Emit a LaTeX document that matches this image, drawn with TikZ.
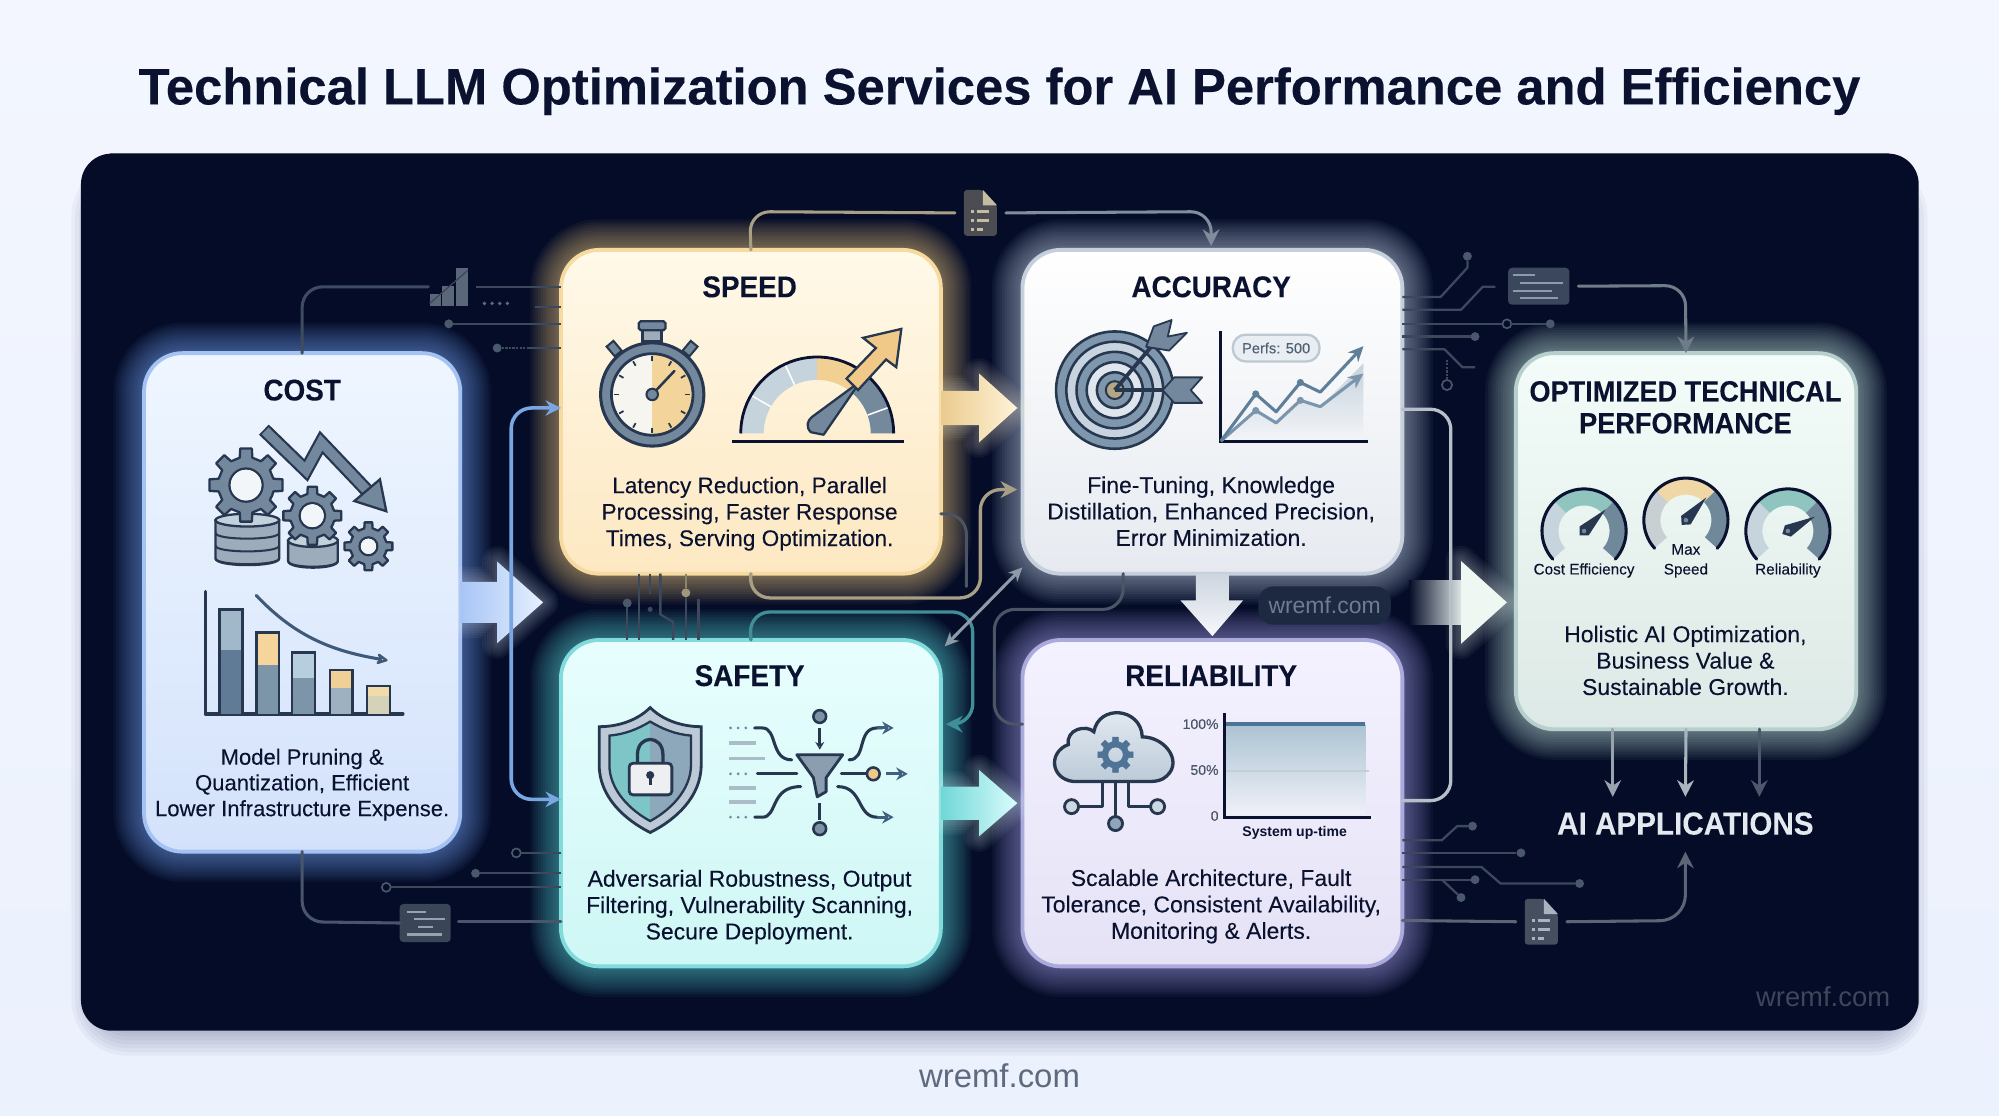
\documentclass[tikz,border=0pt]{standalone}
\usepackage{fontspec}
\setmainfont{Liberation Sans}
\newfontfamily\ttlf[FakeStretch=0.93,FakeBold=0.15]{Liberation Sans Bold}
\newfontfamily\ttlg[FakeStretch=0.925,FakeBold=0.15]{Liberation Sans Bold}
\newfontfamily\headf[FakeStretch=0.99,FakeBold=0.3]{Liberation Sans Bold}
\newfontfamily\bodyf[FakeBold=0.12]{Liberation Sans}
\usetikzlibrary{arrows.meta,calc}
\definecolor{ink}{HTML}{0A1230}
\definecolor{panel}{HTML}{040C27}
\definecolor{icod}{HTML}{26374F}
\definecolor{icom}{HTML}{73889D}
\definecolor{icol}{HTML}{C3D1DC}
\definecolor{tan}{HTML}{F3D193}
\definecolor{wire}{HTML}{3C485C}
\definecolor{wireD}{HTML}{4A586B}
\newcommand{\dcl}[1]{\definecolor{#1}{HTML}{#1}}
\makeatletter
\@for\cc:=F3F6FE,EBF1FD,5E6A7D,3D475A,7FAEFF,A4C2F2,EFF6FF,D3E2FB,F5CF84,F6DA9F,FFF9E9,FDE8C2,C8D6EA,C5D0DC,FFFFFF,E6EAF0,62E0E0,82DBDB,E8FEFE,CEF7F5,AFA8F0,ABAADD,F4F2FF,E5E2F6,CFEFE6,B7D0CE,F3FCF8,DDE9E6,A7C5F5,E6F0FF,EBCB8E,FFF3D8,6FD7D7,DBFCFC,CDD5DF,F6F8FB,EEF7F2,1C2940,6E7D90,4B4D52,C5BBA0,A89F85,7F8D9C,7AA6E2,4B5464,3F8E98,4B5565,8C9AAA,B8BFC8,3A475C,8E9BAD,6F7D89,E4E9EF,98A3AD,AAB4BF,4C586B,454F60,A9B2BF,5A6575,5A6779,3B4759,3E4B60,5E6B7E,4A586B,A1977B,8A8470,3A4558,96A2B2,49556A,A1B8CA,5F7B95,F6D59C,7D95A9,B6CEDE,F1D098,9EB1C0,EFDCA9,D4D2B8,3E5A78,F7F5EF,F3D49A,C5D3DC,F2CF93,74899C,F0C988,7E97AD,C7D4DF,DFE6ED,B5A785,C6D2DD,F3F5F8,7B95AC,5F7E98,BCC8D4,E9EEF3,4E6072,7EC5C8,8EA8BB,EDEFF3,8B9EB0,A9BCC8,3F5F7F,EFC98B,7E92A6,8EA6BA,CCD8E2,E6ECF2,BCCBD9,4E7396,ACC3D3,EEF0F7,C3CEDB,4A7598,4A5568,C6D4DD,8FC5BE,6F889A,C9D0D4,EFD8A5,DDE6E4\do{\expandafter\dcl\expandafter{\cc}}
\makeatother
\tikzset{
 x=1pt,y=-1pt,
 cardbox/.style={rectangle,rounded corners=30pt,line width=3pt,inner sep=0pt,outer sep=0pt},
 ttl/.style={font=\fontsize{23.5}{26}\selectfont\ttlf,text=ink,inner sep=0pt,align=center},
 body/.style={font=\fontsize{18}{20.7}\selectfont\bodyf,text=ink,inner sep=0pt,align=center},
 conn/.style={line width=2.4pt,rounded corners=16pt,line cap=round},
 wr/.style={line width=1.8pt,draw=wire,line join=round},
 dotn/.style={circle,fill=#1,minimum size=7pt,inner sep=0pt,outer sep=0pt},
 dotn/.default=wireD,
 ring/.style={circle,draw=wireD,line width=1.3pt,minimum size=7pt,inner sep=0pt,outer sep=0pt},
 ar/.style={-{Stealth[length=13pt,width=13pt]}},
 mini/.style={font=\fontsize{12}{14}\selectfont\bodyf,text=ink,inner sep=0pt},
 ilin/.style={draw=icod,line width=2.4pt,line cap=round,line join=round},
}
% card: name x1 y1 x2 y2 glow border top bottom
\newcommand{\card}[9]{%
 \foreach \w in {48,44,40,36,32,28,24,20,16,12,8,5}{\draw[#6,line width=\w pt,opacity=.05,rounded corners=30pt] (#2,#3) rectangle (#4,#5);}
 \pgfmathsetmacro\cw{#4-#2}\pgfmathsetmacro\ch{#5-#3}
 \node[cardbox,draw=#7,top color=#8,bottom color=#9,minimum width=\cw pt,minimum height=\ch pt] (#1) at ({(#2+#4)/2},{(#3+#5)/2}) {};}
% horizontal block arrow: x0 xb xt yc sh hh colA colB
\newcommand{\harrow}[8]{%
 \foreach \w in {24,20,16,12,8,4}{\draw[#8,line width=\w pt,opacity=.05,line join=round] (#1,#4-#5)--(#2,#4-#5)--(#2,#4-#6)--(#3,#4)--(#2,#4+#6)--(#2,#4+#5)--(#1,#4+#5)--cycle;}
 \shade[left color=#7,right color=#8] (#1,#4-#5)--(#2,#4-#5)--(#2,#4-#6)--(#3,#4)--(#2,#4+#6)--(#2,#4+#5)--(#1,#4+#5)--cycle;}
% gear: cx cy R hole
\newcommand{\gear}[4]{%
 \draw[fill=icom,draw=icod,line width=1.8pt,even odd rule,line join=round]
  ({#1+#3*.76*cos(-22)},{#2-#3*.76*sin(-22)})
  \foreach \i in {0,...,7}{ -- ({#1+#3*.76*cos(\i*45-13)},{#2-#3*.76*sin(\i*45-13)}) -- ({#1+#3*cos(\i*45-9)},{#2-#3*sin(\i*45-9)}) -- ({#1+#3*cos(\i*45+9)},{#2-#3*sin(\i*45+9)}) -- ({#1+#3*.76*cos(\i*45+13)},{#2-#3*.76*sin(\i*45+13)})} -- cycle
  (#1,#2) circle (#4);}
% db stack: x1 x2 ytop ybot layers
\newcommand{\dbstack}[5]{%
 \pgfmathsetmacro\mx{(#1+#2)/2}\pgfmathsetmacro\rx{(#2-#1)/2}\pgfmathsetmacro\st{(#4-#3)/#5}
 \draw[fill=icom!70,draw=icod,line width=1.8pt] (#1,#3)--(#1,#4) .. controls (#1,#4+7) and (#2,#4+7) .. (#2,#4)--(#2,#3)--cycle;
 \foreach \k in {1,...,#5}{\draw[draw=icod,line width=1.6pt] (#1,#3+\k*\st) .. controls (#1,#3+\k*\st+6) and (#2,#3+\k*\st+6) .. (#2,#3+\k*\st);}
 \draw[fill=icol,draw=icod,line width=1.8pt] (\mx,#3) ellipse [x radius=\rx,y radius=5];}
% annular sector: cx cy a1 a2 Rout Rin colour
\newcommand{\sectorb}[7]{\fill[#7] plot[domain=#3:#4,samples=24] ({#1+(#5)*cos(\x)},{#2-(#5)*sin(\x)}) -- plot[domain=#4:#3,samples=24] ({#1+(#6)*cos(\x)},{#2-(#6)*sin(\x)}) -- cycle;}
% gauge: cx cy R colA colB colC needle-angle
\newcommand{\gauge}[7]{%
 \sectorb{#1}{#2}{222}{135}{#3-1}{#3-13}{#4}
 \sectorb{#1}{#2}{135}{45}{#3-1}{#3-13}{#5}
 \sectorb{#1}{#2}{45}{-42}{#3-1}{#3-13}{#6}
 \draw[draw=ink,line width=2.4pt,line cap=round] plot[domain=222:-42,samples=50] ({#1+#3*cos(\x)},{#2-#3*sin(\x)});
 \fill[icod] ({#1+5*cos(#7+90)},{#2-5*sin(#7+90)}) -- ({#1+24*cos(#7)},{#2-24*sin(#7)}) -- ({#1+5*cos(#7-90)},{#2-5*sin(#7-90)}) -- ({#1-5*cos(#7)},{#2+5*sin(#7)}) -- cycle;
 \fill[icom] (#1,#2) circle (1.8);}
% doc icon: name cx cy w h fill fold
\newcommand{\docicon}[7]{%
 \node[minimum width=#4 pt+14pt,minimum height=#5 pt,inner sep=0pt,outer sep=0pt] (#1) at (#2,#3) {};
 \pgfmathsetmacro\xl{#2-#4/2}\pgfmathsetmacro\xr{#2+#4/2}\pgfmathsetmacro\yt{#3-#5/2}\pgfmathsetmacro\yb{#3+#5/2}
 \fill[#6,rounded corners=2.5pt] (\xl,\yt)--(\xr-11,\yt)--(\xr,\yt+12)--(\xr,\yb)--(\xl,\yb)--cycle;
 \fill[#7] (\xr-11,\yt)--(\xr,\yt+12)--(\xr-11,\yt+12)--cycle;
 \foreach \d/\l in {1/10,8/10,15/5}{
  \fill[#7] (\xl+6,\yt+15+\d) rectangle ++(2,2.4);
  \fill[#7] (\xl+10,\yt+15+\d) rectangle ++(\l,2.4);}}
\begin{document}
\begin{tikzpicture}
\useasboundingbox (0,0) rectangle (1568,875.37);
% page
\shade[top color=F3F6FE,bottom color=EBF1FD,draw=none] (0,0) rectangle (1568,875.37);
\foreach \w in {40,34,28,22,16,10,5}{\draw[black!75!blue,line width=\w pt,opacity=.035,rounded corners=24pt] (76,146) rectangle (1492,808);}
\fill[panel,rounded corners=24pt] (63.5,120.5) rectangle (1505,808.5);
\draw[white!30!panel,line width=.7pt] (86,120.5) -- (1482,120.5);
% title and watermarks
\node[font=\fontsize{40.2}{44}\selectfont\headf,text=ink,inner sep=0pt] (title) at (784,71.5) {Technical LLM Optimization Services for AI Performance and Efficiency};
\node[font=\fontsize{25.8}{28}\selectfont,text=5E6A7D,inner sep=0pt] (wm1) at (784,844) {wremf.com};
\node[font=\fontsize{21.5}{25}\selectfont,text=3D475A,inner sep=0pt] (wm2) at (1430,782) {wremf.com};
% cards
\card{cost}{113}{277}{361}{668}{7FAEFF}{A4C2F2}{EFF6FF}{D3E2FB}
\card{speed}{440}{196}{738}{450}{F5CF84}{F6DA9F}{FFF9E9}{FDE8C2}
\card{acc}{802}{196}{1100}{450}{C8D6EA}{C5D0DC}{FFFFFF}{E6EAF0}
\card{safe}{440}{502}{738}{758}{62E0E0}{82DBDB}{E8FEFE}{CEF7F5}
\card{rel}{802}{502}{1100}{758}{AFA8F0}{ABAADD}{F4F2FF}{E5E2F6}
\card{opt}{1189}{277}{1456}{572}{CFEFE6}{B7D0CE}{F3FCF8}{DDE9E6}
% block arrows
\harrow{361}{390}{426}{472.5}{16}{32}{A7C5F5}{E6F0FF}
\harrow{738}{768}{798}{320}{13.5}{27}{EBCB8E}{FFF3D8}
\harrow{738}{768}{798}{630}{13}{26}{6FD7D7}{DBFCFC}
\shade[top color=CDD5DF,bottom color=F6F8FB] (938,450)--(964,450)--(964,471)--(975,471)--(951,499)--(926,471)--(938,471)--cycle;
\foreach \w in {24,20,16,12,8,4}{\draw[EEF7F2,line width=\w pt,opacity=.05,line join=round] (1146,440)--(1182,472.5)--(1146,505)--cycle;}
\shade[left color=panel,right color=DDE6E4] (1105,455) rectangle (1146,490);
\fill[EEF7F2] (1146,440)--(1182,472.5)--(1146,505)--cycle;
% watermark pill
\node[rectangle,rounded corners=12pt,fill=1C2940,minimum width=104pt,minimum height=30pt,inner sep=0pt,font=\fontsize{18}{22}\selectfont,text=6E7D90] (pill) at (1039,475) {wremf.com};
% main connectors
\docicon{doct}{769}{167}{26}{36}{4B4D52}{C5BBA0}
\draw[conn,draw=A89F85] (speed.north) -- (588,166) -- (doct.west);
\draw[conn,draw=7F8D9C,ar] (doct.east) -- (950,166) -- (950,193);
\draw[conn,draw=7AA6E2,{Stealth[length=12pt,width=12pt]}-{Stealth[length=12pt,width=12pt]},line width=2.8pt] (speed.west |- 0,320) -- (401,320) -- (401,627) -- (safe.west |- 0,627);
\draw[conn,draw=A89F85,ar,line width=2.6pt] (speed.south) -- (588,469) -- (769,469) -- (769,384) -- (798,384);
\draw[conn,draw=4B5464] (speed.east |- 0,403) -- (758,403) -- (758,460);
\draw[conn,draw=3F8E98,ar,line width=2.6pt] (safe.north) -- (588,480) -- (763,480) -- (763,568) -- (742,568);
\draw[conn,draw=4B5565] (881,450) -- (881,478) -- (780,478) -- (780,568) -- (rel.west |- 0,568);
\draw[draw=8C9AAA,line width=2.4pt,{Stealth[length=11pt,width=10pt]}-{Stealth[length=11pt,width=10pt]}] (802,445) -- (741,507);
\draw[conn,draw=B8BFC8,line width=2.6pt] (acc.east |- 0,321) -- (1138,321) -- (1138,628) -- (rel.east |- 0,628);
% list icon right
\node[fill=3A475C,rounded corners=3pt,minimum width=48pt,minimum height=29pt,inner sep=0pt,outer sep=0pt] (listr) at (1207,224.5) {};
\foreach \yy/\a/\b in {216/1187/1204,222/1192/1226,228/1187/1217,234/1192/1222}{\draw[8E9BAD,line width=1.6pt] (\a,\yy) -- (\b,\yy);}
\draw[conn,draw=6F7D89,ar] (listr.east) ++(7,0) -- (1322,224) -- (opt.north);
% opt outputs
\node[font=\fontsize{25}{28}\selectfont\ttlf,text=E4E9EF,inner sep=0pt] (apps) at (1322,646) {AI APPLICATIONS};
\coordinate (o1) at (1265,625);\coordinate (o2) at (1322,625);\coordinate (o3) at (1380,625);\coordinate (aiin) at (1322,668);
\draw[conn,draw=98A3AD,ar] (opt.south -| o1) -- (o1);
\draw[conn,draw=AAB4BF,ar] (opt.south) -- (o2);
\draw[conn,draw=4C586B,ar] (opt.south -| o3) -- (o3);
\docicon{docb}{1209}{723}{26}{36}{454F60}{A9B2BF}
\draw[conn,draw=5A6575] (rel.east |- 0,722) -- (docb.west);
\draw[conn,draw=5A6575,ar,rounded corners=20pt] (docb.east) -- (1322,722) -- (aiin);
% circuit right of accuracy
\node[dotn] (a1) at (1151,201) {};\node[dotn] (a3) at (1216,254) {};\node[ring] (a3b) at (1182,254) {};\node[dotn] (a4) at (1157,264) {};\node[ring,minimum size=8pt] (a5) at (1135,302) {};
\coordinate (a2) at (1173,225);\coordinate (a6) at (1157,288);
\draw[wr] (acc.east |- 0,233) -- (1130,233) -- (1151,210) -- (a1);
\draw[wr] (acc.east |- 0,243) -- (1146,243) -- (1163,225) -- (a2);
\draw[wr] (acc.east |- 0,254) -- (a3b) -- (a3);
\draw[wr] (acc.east |- 0,264) -- (a4);
\draw[wr] (acc.east |- 0,274) -- (1133,274) -- (1147,288) -- (a6);
\draw[wr,densely dotted] (1135,282) -- (a5);
% circuit right of reliability
\node[dotn] (r1) at (1155,648) {};\node[dotn] (r2) at (1193,669) {};\node[dotn] (r3) at (1239,693) {};\node[dotn] (r4) at (1157,690) {};\node[dotn] (r5) at (1146,704) {};
\draw[wr] (rel.east |- 0,659) -- (1131,659) -- (1143,648) -- (r1);
\draw[wr] (rel.east |- 0,669) -- (r2);
\draw[wr] (rel.east |- 0,680) -- (1162,680) -- (1177,693) -- (r3);
\draw[wr] (rel.east |- 0,690) -- (r4);
\draw[wr] (1131,690) -- (r5);
% circuit left top
\node[fill=none,minimum width=32pt,minimum height=32pt,inner sep=0pt,outer sep=0pt] (chartmini) at (352,225) {};
\foreach \xa/\h in {337/9,347/16,358/30}{\fill[5A6779] (\xa,240) rectangle (\xa+9,240-\h);}
\draw[3B4759,line width=1pt] (337,238) -- (367,212);
\draw[conn,draw=3E4B60] (cost.north) -- (237,225) -- (chartmini.west);
\draw[wr] (chartmini.east) ++(5,0) -- (speed.west |- 0,225);
\foreach \xx in {380,386,392,398}{\fill[5E6B7E] (\xx,238) circle (1.5);}
\draw[wr] (420,241) -- (speed.west |- 0,241);
\node[dotn] (l1) at (352,254) {};\draw[wr] (l1) -- (speed.west |- 0,254);
\node[dotn] (l2) at (390,273) {};\draw[wr,densely dotted] (l2) -- (415,273);\draw[wr] (415,273) -- (speed.west |- 0,273);
% circuit left bottom
\node[ring] (s1) at (405,669) {};\node[dotn] (s2) at (373,685) {};\node[ring] (s3) at (303,696) {};
\draw[wr] (s1) -- (safe.west |- 0,669);\draw[wr] (s2) -- (safe.west |- 0,685);\draw[wr] (s3) -- (safe.west |- 0,696);
\node[fill=3A4558,rounded corners=3pt,minimum width=40pt,minimum height=30pt,inner sep=0pt,outer sep=0pt] (listl) at (333.5,724) {};
\foreach \yy/\a/\b in {715/319/334,721/325/349,727/328/340,733/319/347}{\draw[96A2B2,line width=1.6pt] (\a,\yy) -- (\b,\yy);}
\draw[conn,draw=49556A] (cost.south) -- (237,723) -- (listl.west);
\draw[conn,draw=49556A] (listl.east) ++(6,-1) -- (safe.west |- 0,723);
% circuits between speed and safety
\node[dotn=4A586B] (m1) at (492,473) {};\node[dotn=A1977B] (m2) at (538,465) {};\fill[wire] (510,478) circle (2);
\draw[wr] (501,450) -- (501,502);
\draw[wr] (510,450) -- (510,466);
\draw[wr] (518,450) -- (518,482) -- (528,488) -- (528,502);
\draw[wr,draw=8A8470] (speed.south -| m2) -- (m2);\draw[wr] (m2) -- (538,502);
\draw[wr] (m1) -- (492,502);
\draw[wr] (548,470) -- (548,502);
% ---------- COST icons
\node[ttl] (costT) at (237,306) {COST};
\draw[icod,line width=11pt,line join=miter] (207,337) -- (240,369) -- (252,347) -- (290,387);
\dbstack{169}{219}{408}{438}{3}
\dbstack{226}{265}{424}{440}{1}
\gear{193}{380.5}{29}{13}
\fill[white!80!icol] (193,380.5) circle (12);
\gear{245}{404.5}{23}{10}
\fill[white!80!icol] (245,404.5) circle (9);
\gear{289}{428.5}{19}{7}
\fill[white!80!icol] (289,428.5) circle (6);
\draw[icom,line width=7.5pt,line join=miter] (208,338) -- (240,369) -- (252,347) -- (290,387);
\draw[fill=icom,draw=icod,line width=1.8pt,line join=miter] (303,401) -- (278,393) -- (298,376) -- cycle;
% bars
\draw[ilin,line width=2.6pt] (161,464) -- (161,560) -- (316,560);
\newcommand{\bbar}[6]{\fill[#5] (#1,#3) rectangle (#2,#4);\fill[#6] (#1,#4) rectangle (#2,560);\draw[icod,line width=2pt] (#1,560) -- (#1,#3) -- (#2,#3) -- (#2,560);}
\bbar{172}{190}{478}{510}{A1B8CA}{5F7B95}
\bbar{201}{219}{496}{522}{F6D59C}{7D95A9}
\bbar{229}{247}{512}{532}{B6CEDE}{7D95A9}
\bbar{259}{276.5}{525.5}{540}{F1D098}{9EB1C0}
\bbar{288}{306}{538}{546}{EFDCA9}{D4D2B8}
\draw[3E5A78,line width=2.4pt,line cap=round,-{Stealth[length=11pt,width=11pt,open,round]}] (201,467) .. controls (232,500) and (262,511) .. (304,518);
\node[body,font=\fontsize{17.3}{20.2}\selectfont\bodyf] (costB) at (237,615.5) {Model Pruning \&\\Quantization, Efficient\\Lower Infrastructure Expense.};
% ---------- SPEED icons
\node[ttl] (speedT) at (588,225) {SPEED};
\draw[fill=icom!70,draw=icod,line width=2.2pt] (504,256) rectangle (519,268);
\draw[fill=icom,draw=icod,line width=1.8pt,rounded corners=1.5pt] (501,252) rectangle (522,259);
\draw[fill=icom,draw=icod,line width=1.6pt,rotate around={40:(483,275)}] (479.5,268) rectangle (486.5,278);
\draw[fill=icom,draw=icod,line width=1.6pt,rotate around={-40:(540,275)}] (536.5,268) rectangle (543.5,278);
\draw[fill=icom,draw=icod,line width=2.4pt] (511.6,309.4) circle (40.5);
\fill[F7F5EF] (511.6,309.4) circle (32);
\fill[F3D49A] (511.6,277.4) arc [start angle=90,end angle=-90,radius=32pt] -- cycle;
\draw[icod,line width=2.2pt] (511.6,309.4) circle (32);
\foreach \a in {0,30,...,330}{\draw[icod,line width=1.4pt] ({511.6+26*cos(\a)},{309.4-26*sin(\a)}) -- ({511.6+30*cos(\a)},{309.4-30*sin(\a)});}
\draw[icod,line width=2pt,line cap=round] (511.6,309.4) -- (529,291);
\draw[fill=icom,draw=icod,line width=1.6pt] (511.6,309.4) circle (4.5);
% speedometer
\sectorb{641}{340}{180}{90}{60}{42}{C5D3DC}
\sectorb{641}{340}{90}{48}{60}{42}{F2CF93}
\sectorb{641}{340}{48}{0}{60}{42}{74899C}
\foreach \a in {115,150,20}{\draw[white,line width=1.2pt] ({641+42*cos(\a)},{340-42*sin(\a)}) -- ({641+60*cos(\a)},{340-60*sin(\a)});}
\draw[ink,line width=2.2pt] plot[domain=180:0,samples=40] ({641+60*cos(\x)},{340-60*sin(\x)});
\draw[fill=icom,draw=icod,line width=1.8pt,line join=round] (675,299) -- (646,341) -- (636,339) .. controls (632,335) and (633,330) .. (637,327) -- cycle;
\draw[fill=F0C988,draw=icod,line width=1.8pt,line join=miter] (707,258) -- (677,265) -- (687,273) -- (664,297) -- (673,306) -- (695,282) -- (703,288) -- cycle;
\draw[ink,line width=2.4pt] (574,346) -- (709,346);
\node[body,font=\fontsize{17.7}{20.7}\selectfont\bodyf] (speedB) at (588,403) {Latency Reduction, Parallel\\Processing, Faster Response\\Times, Serving Optimization.};
% ---------- ACCURACY icons
\node[ttl] (accT) at (950,225) {ACCURACY};
\foreach \r/\c in {46/7E97AD,38/C7D4DF,30/7E97AD,22/DFE6ED,14/7E97AD}{\draw[fill=\c,draw=icod,line width=2pt] (874.4,306) circle (\r);}
\draw[fill=B5A785,draw=icod,line width=1.6pt] (874.4,306) circle (7);
\draw[icod,line width=3pt] (874.4,306) -- (908,266);
\draw[fill=icom,draw=icod,line width=1.4pt,line join=round] (899,272) -- (905,256) -- (919,251) -- (916,264) -- (931,261) -- (917,275) -- cycle;
\draw[icod,line width=3pt] (874.4,306) -- (916,306);
\draw[fill=icom,draw=icod,line width=1.4pt,line join=round] (912,306) -- (921,296) -- (943,296) -- (934,306) -- (943,316) -- (921,316) -- cycle;
\shade[top color=C6D2DD,bottom color=F3F5F8] (957.6,346) -- (985,322) -- (1001,331.7) -- (1020,314) -- (1035.6,319) -- (1069.5,285) -- (1069.5,346) -- cycle;
\draw[ink,line width=2.4pt] (957.6,259.6) -- (957.6,346) -- (1073,346);
\draw[7B95AC,line width=2.4pt,line join=round,-{Stealth[length=12pt,width=11pt]}] (957.6,346) -- (985,322) -- (1001,331.7) -- (1020,314) -- (1035.6,319) -- (1069.5,293);
\draw[5F7E98,line width=2.4pt,line join=round,-{Stealth[length=12pt,width=11pt]}] (957.6,346) -- (985,309) -- (1001,323) -- (1020,300) -- (1035.6,307.6) -- (1069.5,271.5);
\fill[5F7E98] (985,309) circle (2.8);\fill[5F7E98] (1020,300) circle (2.8);\fill[7B95AC] (985,322) circle (2.8);\fill[7B95AC] (1020,314) circle (2.8);
\node[draw=BCC8D4,fill=E9EEF3,rounded corners=10pt,line width=1.8pt,minimum width=68pt,minimum height=21pt,inner sep=0pt,font=\fontsize{11.5}{13}\selectfont\bodyf,text=4E6072] (perfs) at (1001,273) {Perfs: 500};
\node[body] (accB) at (950,401) {Fine-Tuning, Knowledge\\Distillation, Enhanced Precision,\\Error Minimization.};
% ---------- SAFETY icons
\node[ttl] (safeT) at (588,530) {SAFETY};
\draw[fill=icol!90!icom,draw=icod,line width=2.2pt,line join=miter] (510,555) .. controls (520,565) and (535,570) .. (550,570) -- (550,600) .. controls (550,625) and (530,643) .. (510,653) .. controls (490,643) and (470,625) .. (470,600) -- (470,570) .. controls (485,570) and (500,565) .. (510,555) -- cycle;
\fill[7EC5C8] (510,566) .. controls (500,572) and (490,576) .. (478,577) -- (478,600) .. controls (478,620) and (495,636) .. (510,644) -- cycle;
\fill[8EA8BB] (510,566) .. controls (520,572) and (530,576) .. (542,577) -- (542,600) .. controls (542,620) and (525,636) .. (510,644) -- cycle;
\draw[icod,line width=1.8pt,line join=miter] (510,566) .. controls (520,572) and (530,576) .. (542,577) -- (542,600) .. controls (542,620) and (525,636) .. (510,644) .. controls (495,636) and (478,620) .. (478,600) -- (478,577) .. controls (490,576) and (500,572) .. (510,566) -- cycle;
\draw[icod,line width=2.6pt] (500,600) -- (500,592) .. controls (500,576) and (520,576) .. (520,592) -- (520,600);
\draw[fill=EDEFF3,draw=icod,line width=2.2pt,rounded corners=3pt] (493.5,598.7) rectangle (527,623.5);
\fill[icod] (510,608) circle (3.2);\draw[icod,line width=2.2pt] (510,608) -- (510,616);
% filter
\draw[fill=7E92A6,draw=icod,line width=2pt] (643,562) circle (5);
\draw[icod,line width=2pt,-{Stealth[length=6pt,width=7pt,open]}] (643,571) -- (643,588);
\draw[fill=8B9EB0,draw=icod,line width=2.2pt,line join=round] (625,592) -- (661,592) -- (648,610) -- (648,621) -- (641,625) -- (638,610) -- cycle;
\draw[fill=7E92A6,draw=icod,line width=2pt] (643,650) circle (5);
\draw[icod,line width=2pt] (643,630) -- (643,643);
\foreach \yy in {571,607,618,641}{\foreach \xx in {573,579,585}{\fill[icom] (\xx,\yy) circle (1.2);}}
\foreach \yy/\e in {583/593,595/600,618/593,629/593}{\draw[A9BCC8,line width=3pt] (572,\yy) -- (\e,\yy);}
\draw[ilin] (592,571) -- (598,571) .. controls (610,571) and (604,596) .. (621,596);
\draw[ilin] (594,607) -- (625,607);
\draw[ilin] (592,641) -- (598,641) .. controls (610,641) and (604,617) .. (628,617);
\draw[ilin] (666,596) .. controls (680,596) and (672,571) .. (688,571) -- (692,571);
\draw[3F5F7F,line width=2.4pt,-{Stealth[length=9pt,width=10pt,open]}] (688,571) -- (701,571);
\draw[ilin] (660,607) -- (680,607);
\draw[fill=EFC98B,draw=icod,line width=2pt] (685,607) circle (5);
\draw[3F5F7F,line width=2.4pt,-{Stealth[length=9pt,width=10pt,open]}] (695,607) -- (712,607);
\draw[ilin] (657,617) .. controls (677,617) and (672,641) .. (688,641);
\draw[3F5F7F,line width=2.4pt,-{Stealth[length=9pt,width=10pt,open]}] (688,641) -- (701,641);
\node[body] (safeB) at (588,711.5) {Adversarial Robustness, Output\\Filtering, Vulnerability Scanning,\\Secure Deployment.};
% ---------- RELIABILITY icons
\node[ttl] (relT) at (950,530) {RELIABILITY};
\draw[ilin] (875,612) -- (875,640);
\draw[ilin] (865,612) -- (865,632.7) -- (846,632.7);
\draw[ilin] (885,612) -- (885,632.7) -- (902,632.7);
\draw[fill=8EA6BA,draw=icod,line width=2.2pt] (875,646) circle (5.5);
\draw[fill=CCD8E2,draw=icod,line width=2.2pt] (840.5,632.7) circle (5.5);
\draw[fill=CCD8E2,draw=icod,line width=2.2pt] (908,632.7) circle (5.5);
\draw[top color=E6ECF2,bottom color=BCCBD9,draw=icod,line width=2.6pt] (842,613) .. controls (824,611) and (822,590) .. (838,584) .. controls (836,572) and (852,568) .. (858,574) .. controls (862,552) and (895,555) .. (896,578) .. controls (915,578) and (930,600) .. (912,611) .. controls (908,613) and (904,613) .. (900,613) -- cycle;
\draw[fill=4E7396,draw=4E7396,even odd rule]
 ({875+10*cos(-22)},{592-10*sin(-22)})
 \foreach \i in {0,...,7}{ -- ({875+10.5*cos(\i*45-13)},{592-10.5*sin(\i*45-13)}) -- ({875+14*cos(\i*45-9)},{592-14*sin(\i*45-9)}) -- ({875+14*cos(\i*45+9)},{592-14*sin(\i*45+9)}) -- ({875+10.5*cos(\i*45+13)},{592-10.5*sin(\i*45+13)})} -- cycle
 (875,592) circle (6);
\shade[top color=ACC3D3,bottom color=EEF0F7] (961,568) rectangle (1071,638);
\draw[C3CEDB,line width=1.6pt] (961,604.5) -- (1074,604.5);
\draw[4A7598,line width=3pt] (961,568) -- (1071,568);
\draw[ink,line width=2.4pt] (960.4,559.5) -- (960.4,641) -- (1075,641);
\node[font=\fontsize{11}{13}\selectfont\bodyf,text=4A5568,anchor=east,inner sep=0pt] (p100) at (956,568) {100\%};
\node[font=\fontsize{11}{13}\selectfont\bodyf,text=4A5568,anchor=east,inner sep=0pt] (p50) at (956,604) {50\%};
\node[font=\fontsize{11}{13}\selectfont\bodyf,text=4A5568,anchor=east,inner sep=0pt] (p0) at (956,640) {0};
\node[font=\fontsize{11}{13}\selectfont\bfseries,text=ink,inner sep=0pt] (upt) at (1015.5,653) {System up-time};
\node[body] (relB) at (950,711) {Scalable Architecture, Fault\\Tolerance, Consistent Availability,\\Monitoring \& Alerts.};
% ---------- OPT
\node[ttl,font=\fontsize{23}{25}\selectfont\ttlg] (optT) at (1322,319.5) {OPTIMIZED TECHNICAL\\PERFORMANCE};
\gauge{1242.5}{416.5}{33}{C6D4DD}{8FC5BE}{6F889A}{45}
\gauge{1322.4}{408}{33}{C9D0D4}{EFD8A5}{6F889A}{48}
\gauge{1402.4}{416.5}{33}{C6D4DD}{8FC5BE}{6F889A}{28}
\node[mini] (g1) at (1242.5,447.5) {Cost Efficiency};
\node[mini] (g2) at (1322.4,431) {Max};
\node[mini] (g2b) at (1322.4,447.5) {Speed};
\node[mini] (g3) at (1402.4,447.5) {Reliability};
\node[body] (optB) at (1322,518) {Holistic AI Optimization,\\Business Value \&\\Sustainable Growth.};
\end{tikzpicture}
\end{document}
